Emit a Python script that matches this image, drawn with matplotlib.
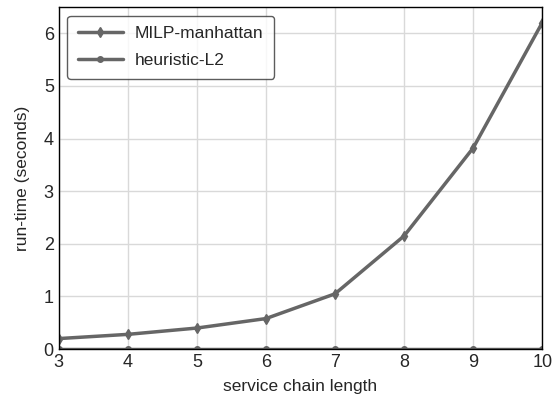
import numpy as np
import matplotlib
matplotlib.use("Agg")
import matplotlib.pyplot as plt
import seaborn as sns

# ── Datos ──────────────────────────────────────────────────────────
largo_cadena = [3, 4, 5, 6, 7, 8, 9, 10]
t_milp       = [0.20, 0.28, 0.40, 0.58, 1.05, 2.15, 3.82, 6.20]
t_heuristica = [0.01, 0.01, 0.01, 0.01, 0.01, 0.01, 0.01, 0.01]

sns.set_style("whitegrid")
plt.rcParams['font.family'] = ['Liberation Sans', 'DejaVu Sans']

fig, ax = plt.subplots(figsize=(5.59, 4.05), dpi=100)

color = '#666666'
ax.plot(largo_cadena, t_milp, color=color, linewidth=2.5, marker='d',
        markersize=5, label='MILP-manhattan')
ax.plot(largo_cadena, t_heuristica, color=color, linewidth=2.5, marker='o',
        markersize=4, label='heuristic-L2')

ax.set_xlim(3, 10)
ax.set_ylim(0, 6.5)
ax.set_xticks(range(3, 11))
ax.set_yticks(range(0, 7))
ax.set_xlabel('service chain length', fontsize=12.5, color='#262626', labelpad=6)
ax.set_ylabel('run-time (seconds)', fontsize=12.5, color='#262626', labelpad=10)
ax.tick_params(labelsize=13, length=0, labelcolor='#262626')
for s in ax.spines.values():
    s.set_color('black')
    s.set_linewidth(1.0)
ax.grid(True, color='#d9d9d9', linewidth=1.0)

leg = ax.legend(loc='upper left', fontsize=12.5, frameon=True, edgecolor='#333333',
                fancybox=True, handlelength=2.6, handletextpad=0.7,
                labelcolor='#262626', labelspacing=0.7, borderpad=0.6)
leg.get_frame().set_linewidth(1.0)

plt.subplots_adjust(left=0.105, right=0.97, top=0.983, bottom=0.138)
plt.savefig('out.png', dpi=100)
